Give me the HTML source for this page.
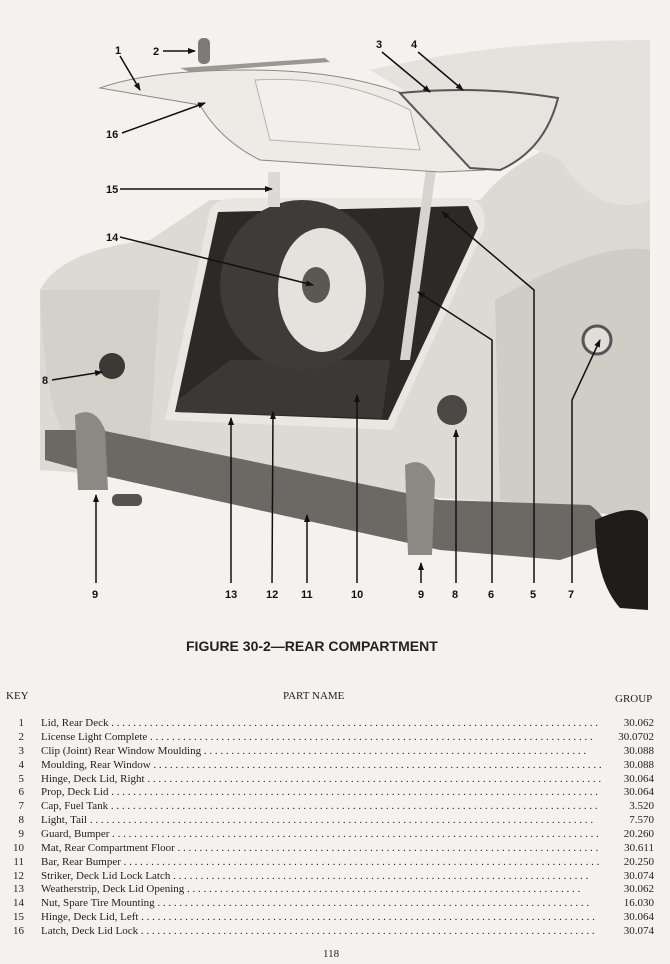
<!DOCTYPE html>
<html><head><meta charset="utf-8"><style>
body{margin:0;width:670px;height:964px;background:#f3f2ee;position:relative;overflow:hidden;font-family:"Liberation Serif",serif;color:#222}
.t{position:absolute;font-size:11px;white-space:nowrap}
.row{position:absolute;left:0;width:670px;height:14px;font-size:11px}
.row .k{position:absolute;left:12px;width:12px;text-align:right}
.row .n{position:absolute;left:41px;width:560px;overflow:hidden;white-space:nowrap}
.row .g{position:absolute;left:612px;width:42px;text-align:right}
</style></head><body>
<svg width="670" height="620" style="position:absolute;left:0;top:0" font-family="Liberation Sans Narrow, Liberation Sans, sans-serif" font-weight="bold" font-size="11">
<defs><marker id="a" markerWidth="8" markerHeight="8" refX="7" refY="4" orient="auto" markerUnits="userSpaceOnUse"><path d="M0,1 L8,4 L0,7 Z" fill="#111"/></marker></defs>
<path d="M40,290 Q60,250 150,240 L210,200 L480,200 Q520,150 600,130 L650,40 L650,520 L610,510 L40,470 Z" fill="#dcdad3"/>
<path d="M370,70 Q500,40 650,40 L650,200 Q600,220 560,160 L420,100 Z" fill="#e4e2dc"/>
<path d="M40,290 Q45,420 70,440 L150,440 L160,290 Z" fill="#d3d1ca"/>
<path d="M495,300 Q600,240 650,250 L650,520 L500,500 Z" fill="#cfcdc6"/>
<path d="M165,420 L210,210 Q215,198 240,198 L470,198 Q488,205 484,230 L392,430 Z" fill="#e9e7e2"/>
<path d="M175,412 L218,212 L468,206 L478,228 L388,420 Z" fill="#2b2a27"/>
<path d="M178,400 L230,360 L390,360 L382,418 L176,412 Z" fill="#3a3935"/>
<ellipse cx="302" cy="285" rx="82" ry="85" fill="#3e3c38"/>
<ellipse cx="322" cy="290" rx="44" ry="62" fill="#e4e2dc"/>
<ellipse cx="316" cy="285" rx="14" ry="18" fill="#5a5853"/>
<path d="M430,140 L440,140 L410,360 L400,360 Z" fill="#d6d4ce"/>
<path d="M100,88 Q150,70 250,70 Q350,70 420,100 Q470,140 485,170 L440,172 L260,160 Q220,140 200,105 Z" fill="#ecebe6" stroke="#8a8880" stroke-width="1"/>
<path d="M400,93 Q480,85 558,98 Q545,150 500,170 L470,168 Z" fill="#e6e4de" stroke="#555" stroke-width="2"/>
<path d="M255,80 Q340,75 410,110 L420,150 L270,140 Z" fill="#f1f0ec" stroke="#b5b3ad"/>
<rect x="268" y="172" width="12" height="35" fill="#dcdad4"/>
<path d="M180,68 L325,58 L330,62 L190,72 Z" fill="#9a9892"/>
<rect x="198" y="38" width="12" height="26" rx="5" fill="#7d7b75"/>
<circle cx="112" cy="366" r="13" fill="#3a3935"/>
<circle cx="452" cy="410" r="15" fill="#4a4844"/>
<circle cx="597" cy="340" r="14" fill="#e0ded8" stroke="#555" stroke-width="3"/>
<path d="M45,430 L100,430 L440,500 L590,505 Q612,520 605,545 L560,560 L440,550 L100,475 L45,460 Z" fill="#6b6963"/>
<path d="M75,415 Q95,405 105,430 L108,490 L78,490 Z" fill="#8b8983"/>
<path d="M405,465 Q425,455 435,480 L432,555 L408,555 Z" fill="#8b8983"/>
<rect x="112" y="494" width="30" height="12" rx="5" fill="#55534e"/>
<path d="M595,520 Q640,500 648,520 L648,610 L620,608 Q595,580 595,520 Z" fill="#1e1d1b"/>
<g stroke="#111" stroke-width="1.5" fill="none" marker-end="url(#a)">
<line x1="120" y1="56" x2="140" y2="90"/>
<line x1="163" y1="51" x2="195" y2="51"/>
<line x1="382" y1="52" x2="430" y2="92"/>
<line x1="418" y1="52" x2="463" y2="90"/>
<line x1="122" y1="133" x2="205" y2="103"/>
<line x1="120" y1="189" x2="272" y2="189"/>
<line x1="120" y1="237" x2="313" y2="285"/>
<line x1="52" y1="380" x2="102" y2="372"/>
<line x1="96" y1="583" x2="96" y2="495"/>
<line x1="231" y1="583" x2="231" y2="418"/>
<line x1="272" y1="583" x2="273" y2="412"/>
<line x1="307" y1="583" x2="307" y2="515"/>
<line x1="357" y1="583" x2="357" y2="395"/>
<line x1="421" y1="583" x2="421" y2="563"/>
<line x1="456" y1="583" x2="456" y2="430"/>
<polyline points="492,583 492,340 418,292"/>
<polyline points="534,583 534,290 442,212"/>
<polyline points="572,583 572,400 600,340"/>
</g>
<g fill="#111">
<text x="115" y="54">1</text><text x="153" y="55">2</text><text x="376" y="48">3</text><text x="411" y="48">4</text>
<text x="106" y="138">16</text><text x="106" y="193">15</text><text x="106" y="241">14</text><text x="42" y="384">8</text>
<text x="92" y="598">9</text><text x="225" y="598">13</text><text x="266" y="598">12</text><text x="301" y="598">11</text>
<text x="351" y="598">10</text><text x="418" y="598">9</text><text x="452" y="598">8</text><text x="488" y="598">6</text>
<text x="530" y="598">5</text><text x="568" y="598">7</text>
</g>
</svg>
<div class="t" style="left:186px;top:638px;font-family:'Liberation Sans',sans-serif;font-weight:bold;font-size:14px">FIGURE 30-2—REAR COMPARTMENT</div>
<div class="t" style="left:6px;top:690px">KEY</div>
<div class="t" style="left:283px;top:690px">PART NAME</div>
<div class="t" style="left:615px;top:693px">GROUP</div>
<div class="row" style="top:717px"><span class="k">1</span><span class="n">Lid, Rear Deck . . . . . . . . . . . . . . . . . . . . . . . . . . . . . . . . . . . . . . . . . . . . . . . . . . . . . . . . . . . . . . . . . . . . . . . . . . . . . . . . . . . . . . . . . .</span><span class="g">30.062</span></div>
<div class="row" style="top:731px"><span class="k">2</span><span class="n">License Light Complete . . . . . . . . . . . . . . . . . . . . . . . . . . . . . . . . . . . . . . . . . . . . . . . . . . . . . . . . . . . . . . . . . . . . . . . . . . . . . . . . .</span><span class="g">30.0702</span></div>
<div class="row" style="top:745px"><span class="k">3</span><span class="n">Clip (Joint) Rear Window Moulding . . . . . . . . . . . . . . . . . . . . . . . . . . . . . . . . . . . . . . . . . . . . . . . . . . . . . . . . . . . . . . . . . . . . . .</span><span class="g">30.088</span></div>
<div class="row" style="top:759px"><span class="k">4</span><span class="n">Moulding, Rear Window . . . . . . . . . . . . . . . . . . . . . . . . . . . . . . . . . . . . . . . . . . . . . . . . . . . . . . . . . . . . . . . . . . . . . . . . . . . . . . . . . .</span><span class="g">30.088</span></div>
<div class="row" style="top:773px"><span class="k">5</span><span class="n">Hinge, Deck Lid, Right . . . . . . . . . . . . . . . . . . . . . . . . . . . . . . . . . . . . . . . . . . . . . . . . . . . . . . . . . . . . . . . . . . . . . . . . . . . . . . . . . . .</span><span class="g">30.064</span></div>
<div class="row" style="top:786px"><span class="k">6</span><span class="n">Prop, Deck Lid . . . . . . . . . . . . . . . . . . . . . . . . . . . . . . . . . . . . . . . . . . . . . . . . . . . . . . . . . . . . . . . . . . . . . . . . . . . . . . . . . . . . . . . . . .</span><span class="g">30.064</span></div>
<div class="row" style="top:800px"><span class="k">7</span><span class="n">Cap, Fuel Tank . . . . . . . . . . . . . . . . . . . . . . . . . . . . . . . . . . . . . . . . . . . . . . . . . . . . . . . . . . . . . . . . . . . . . . . . . . . . . . . . . . . . . . . . . .</span><span class="g">3.520</span></div>
<div class="row" style="top:814px"><span class="k">8</span><span class="n">Light, Tail . . . . . . . . . . . . . . . . . . . . . . . . . . . . . . . . . . . . . . . . . . . . . . . . . . . . . . . . . . . . . . . . . . . . . . . . . . . . . . . . . . . . . . . . . . . .</span><span class="g">7.570</span></div>
<div class="row" style="top:828px"><span class="k">9</span><span class="n">Guard, Bumper . . . . . . . . . . . . . . . . . . . . . . . . . . . . . . . . . . . . . . . . . . . . . . . . . . . . . . . . . . . . . . . . . . . . . . . . . . . . . . . . . . . . . . . . . .</span><span class="g">20.260</span></div>
<div class="row" style="top:842px"><span class="k">10</span><span class="n">Mat, Rear Compartment Floor . . . . . . . . . . . . . . . . . . . . . . . . . . . . . . . . . . . . . . . . . . . . . . . . . . . . . . . . . . . . . . . . . . . . . . . . . . . . .</span><span class="g">30.611</span></div>
<div class="row" style="top:856px"><span class="k">11</span><span class="n">Bar, Rear Bumper . . . . . . . . . . . . . . . . . . . . . . . . . . . . . . . . . . . . . . . . . . . . . . . . . . . . . . . . . . . . . . . . . . . . . . . . . . . . . . . . . . . . . . .</span><span class="g">20.250</span></div>
<div class="row" style="top:870px"><span class="k">12</span><span class="n">Striker, Deck Lid Lock Latch . . . . . . . . . . . . . . . . . . . . . . . . . . . . . . . . . . . . . . . . . . . . . . . . . . . . . . . . . . . . . . . . . . . . . . . . . . . .</span><span class="g">30.074</span></div>
<div class="row" style="top:883px"><span class="k">13</span><span class="n">Weatherstrip, Deck Lid Opening . . . . . . . . . . . . . . . . . . . . . . . . . . . . . . . . . . . . . . . . . . . . . . . . . . . . . . . . . . . . . . . . . . . . . . . .</span><span class="g">30.062</span></div>
<div class="row" style="top:897px"><span class="k">14</span><span class="n">Nut, Spare Tire Mounting . . . . . . . . . . . . . . . . . . . . . . . . . . . . . . . . . . . . . . . . . . . . . . . . . . . . . . . . . . . . . . . . . . . . . . . . . . . . . . .</span><span class="g">16.030</span></div>
<div class="row" style="top:911px"><span class="k">15</span><span class="n">Hinge, Deck Lid, Left . . . . . . . . . . . . . . . . . . . . . . . . . . . . . . . . . . . . . . . . . . . . . . . . . . . . . . . . . . . . . . . . . . . . . . . . . . . . . . . . . . .</span><span class="g">30.064</span></div>
<div class="row" style="top:925px"><span class="k">16</span><span class="n">Latch, Deck Lid Lock . . . . . . . . . . . . . . . . . . . . . . . . . . . . . . . . . . . . . . . . . . . . . . . . . . . . . . . . . . . . . . . . . . . . . . . . . . . . . . . . . . .</span><span class="g">30.074</span></div>
<div class="t" style="left:323px;top:948px">118</div>
</body></html>
